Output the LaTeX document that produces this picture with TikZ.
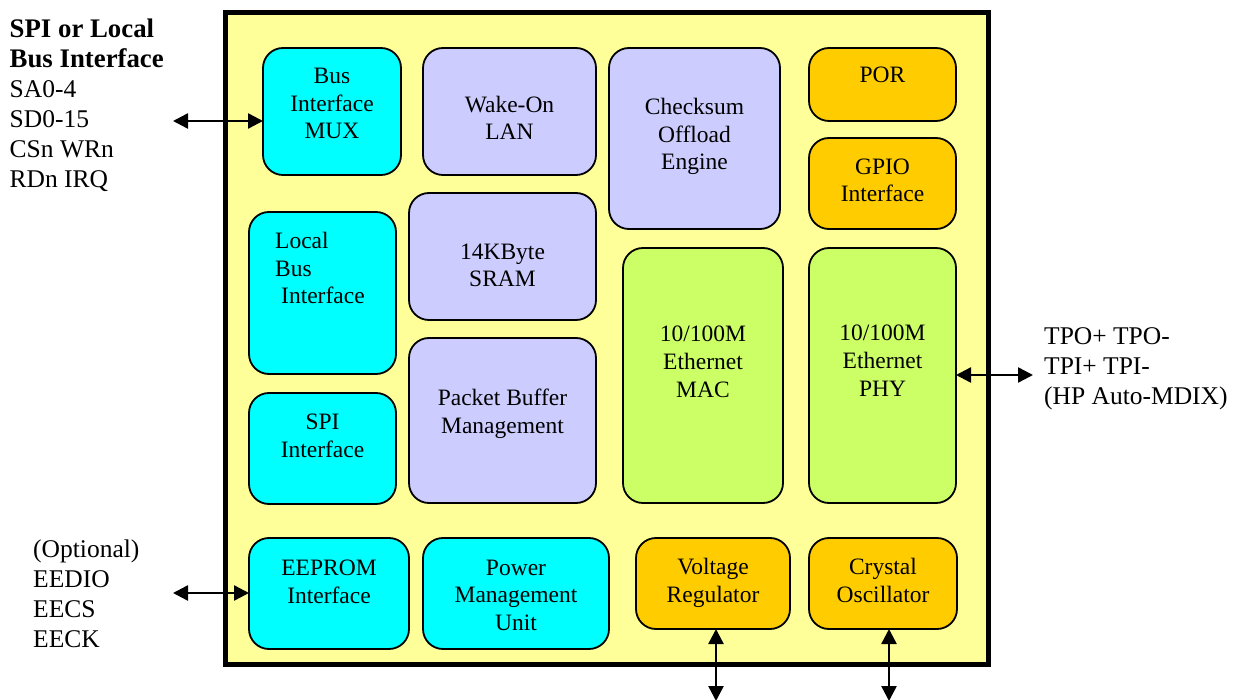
\documentclass[tikz,border=0pt]{standalone}
\usepackage{fontspec}
\setmainfont{Liberation Serif}
\usetikzlibrary{arrows.meta}

\definecolor{chipyellow}{HTML}{FFFF99}
\definecolor{cyanbox}{HTML}{00FFFF}
\definecolor{lilacbox}{HTML}{CCCCFF}
\definecolor{greenbox}{HTML}{CCFF66}
\definecolor{orangebox}{HTML}{FFCC00}

\tikzset{
    chip/.style={draw, line width=5pt, fill=chipyellow, inner sep=0pt, outer sep=0pt, anchor=north west},
    blk/.style={draw, line width=1.8pt, rounded corners=20pt, inner sep=0pt, outer sep=0pt, anchor=north west},
    txt/.style={font=\fontsize{23.5}{27.5}\selectfont, align=center, inner sep=0pt, anchor=base},
    side/.style={font=\fontsize{25.5}{30}\selectfont, align=left, inner sep=0pt, anchor=base west},
    io/.style={line width=2.5pt, <->, >={Triangle[length=15pt,width=15pt]}},
}

\begin{document}
\begin{tikzpicture}[x=1pt, y=-1pt]
    \useasboundingbox (0,0) rectangle (1242,700) ;

    % the chip
    \node[chip, minimum width=763pt, minimum height=652pt] (board) at (225.5,12.5) {} ;

    % blocks
    \node[blk, fill=cyanbox, minimum width=138pt, minimum height=127pt] (mux) at (263,48) {} ;
    \node[blk, fill=lilacbox, minimum width=173pt, minimum height=127pt] (wol) at (423,48) {} ;
    \node[blk, fill=lilacbox, minimum width=171pt, minimum height=181pt] (cso) at (609,48) {} ;
    \node[blk, fill=orangebox, minimum width=147pt, minimum height=73pt] (por) at (809,48) {} ;
    \node[blk, fill=orangebox, minimum width=147pt, minimum height=91pt] (gpio) at (809,138) {} ;
    \node[blk, fill=cyanbox, minimum width=147pt, minimum height=162pt] (lbi) at (249,212) {} ;
    \node[blk, fill=lilacbox, minimum width=187pt, minimum height=127pt] (sram) at (409,193) {} ;
    \node[blk, fill=greenbox, minimum width=160pt, minimum height=255pt] (mac) at (623,248) {} ;
    \node[blk, fill=greenbox, minimum width=147pt, minimum height=255pt] (phy) at (809,248) {} ;
    \node[blk, fill=cyanbox, minimum width=147pt, minimum height=111pt] (spi) at (249,393) {} ;
    \node[blk, fill=lilacbox, minimum width=187pt, minimum height=165pt] (pbm) at (409,338) {} ;
    \node[blk, fill=cyanbox, minimum width=160pt, minimum height=111pt] (eeprom) at (249,538) {} ;
    \node[blk, fill=cyanbox, minimum width=186pt, minimum height=111pt] (pmu) at (423,538) {} ;
    \node[blk, fill=orangebox, minimum width=154pt, minimum height=91pt] (vreg) at (636,538) {} ;
    \node[blk, fill=orangebox, minimum width=148pt, minimum height=91pt] (xtal) at (809,538) {} ;

    % block texts (placed on the baseline of their last line)
    \node[txt] (mux-t) at (332,139) {Bus\\Interface\\MUX} ;
    \node[txt] (wol-t) at (509.5,140) {Wake-On\\LAN} ;
    \node[txt] (cso-t) at (694.5,170) {Checksum\\Offload\\Engine} ;
    \node[txt] (por-t) at (882.5,83) {POR} ;
    \node[txt] (gpio-t) at (882.5,202) {GPIO\\Interface} ;
    \node[txt, align=left, anchor=base west] (lbi-t) at (275,304) {Local\\Bus\\\hspace*{6pt}Interface} ;
    \node[txt] (sram-t) at (502.5,287) {14KByte\\SRAM} ;
    \node[txt] (mac-t) at (703,397) {10/100M\\Ethernet\\MAC} ;
    \node[txt] (phy-t) at (882.5,396) {10/100M\\Ethernet\\PHY} ;
    \node[txt] (spi-t) at (322.5,457) {SPI\\Interface} ;
    \node[txt] (pbm-t) at (502.5,433) {Packet Buffer\\Management} ;
    \node[txt] (eeprom-t) at (329,603) {EEPROM\\Interface} ;
    \node[txt] (pmu-t) at (516,630) {Power\\Management\\Unit} ;
    \node[txt] (vreg-t) at (713,602) {Voltage\\Regulator} ;
    \node[txt] (xtal-t) at (883,602) {Crystal\\Oscillator} ;

    % pins outside the chip
    \node[side] (hostpins) at (9.5,188) {{\fontsize{26.8}{30}\selectfont\bfseries SPI or Local}\\{\fontsize{26.8}{30}\selectfont\bfseries Bus Interface}\\SA0-4\\SD0-15\\CSn WRn\\RDn IRQ} ;
    \node[side] (eepins) at (33,647) {(Optional)\\EEDIO\\EECS\\EECK} ;
    \node[side] (tppins) at (1044,404) {TPO+ TPO-\\TPI+ TPI-\\(HP Auto-MDIX)} ;

    \coordinate (hostend) at (173,121) ;
    \coordinate (eeend) at (173,593) ;
    \coordinate (tpend) at (1033,375) ;
    \coordinate (vend) at (716,701) ;
    \coordinate (xend) at (889,701) ;

    \draw[io] (hostend) -- (hostend -| mux.west) ;
    \draw[io] (eeend) -- (eeend -| eeprom.west) ;
    \draw[io] (tpend -| phy.east) -- (tpend) ;
    \draw[io] (vend |- vreg.south) -- (vend) ;
    \draw[io] (xend |- xtal.south) -- (xend) ;
\end{tikzpicture}
\end{document}
